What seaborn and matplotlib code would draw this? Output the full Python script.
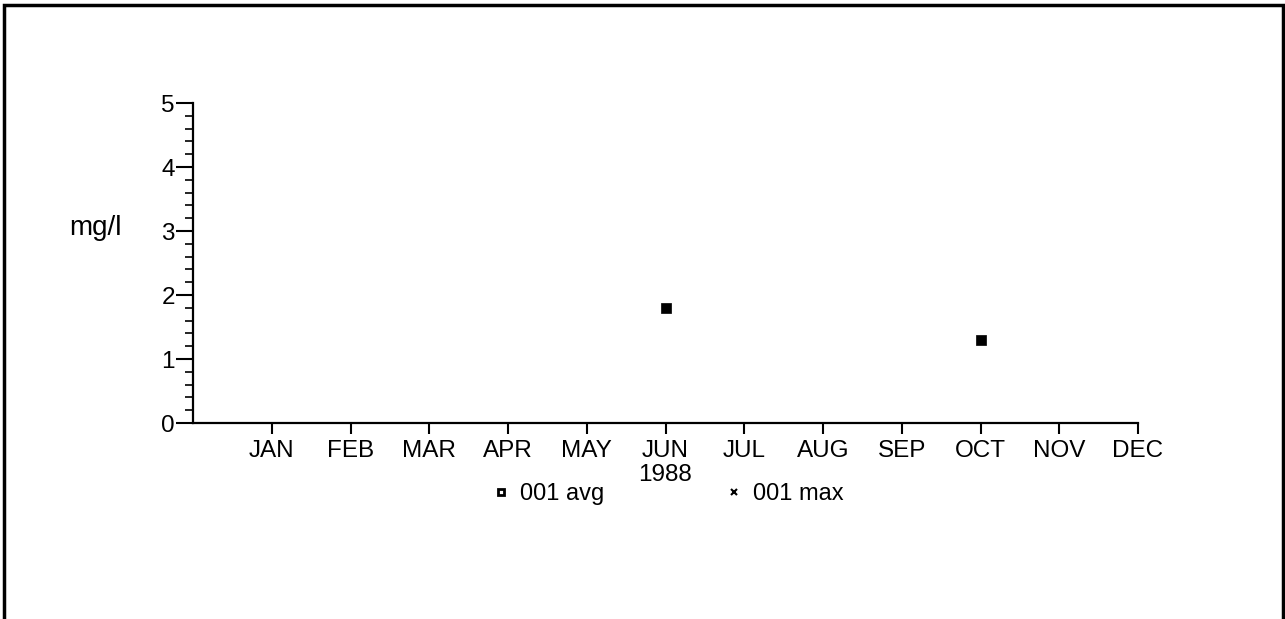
import matplotlib
matplotlib.use("Agg")
import matplotlib.pyplot as plt
from matplotlib.lines import Line2D
from matplotlib.patches import Rectangle
from matplotlib.ticker import MultipleLocator
import pandas as pd
import seaborn as sns

months = ["JAN", "FEB", "MAR", "APR", "MAY", "JUN", "JUL", "AUG", "SEP", "OCT", "NOV", "DEC"]
avg_months = ["JUN", "OCT"]
avg_values = [1.80, 1.29]
max_months = []
max_values = []
year_label = "1988"

sns.set_style("white")
plt.rcParams["font.family"] = ["Liberation Sans", "DejaVu Sans"]
plt.rcParams["text.color"] = "black"
plt.rcParams["xtick.color"] = "black"
plt.rcParams["ytick.color"] = "black"
plt.rcParams["axes.labelcolor"] = "black"

df = pd.DataFrame({
    "month": [months.index(m) + 1 for m in avg_months],
    "value": avg_values,
})

fig = plt.figure(figsize=(12.85, 6.19), dpi=100)
ax = fig.add_axes([193 / 1285, 1 - 423 / 619, 945 / 1285, 320 / 619])

sns.scatterplot(data=df, x="month", y="value", ax=ax, marker="s", s=45,
                color="black", edgecolor="black", linewidth=0.5, legend=False)

ax.set_xlim(0, 12)
ax.set_ylim(0, 5)
ax.set_xticks(range(1, 13))
ax.set_xticklabels(months, fontsize=17.5)
ax.set_yticks(range(0, 6))
ax.set_yticklabels([str(v) for v in range(0, 6)], fontsize=17.5)
ax.yaxis.set_minor_locator(MultipleLocator(0.2))
ax.tick_params(axis="x", direction="out", length=8, width=1.5, pad=4, bottom=True)
ax.tick_params(axis="y", which="major", direction="out", length=12, width=1.5, pad=1, left=True)
ax.tick_params(axis="y", which="minor", direction="out", length=6, width=1.2, left=True)
for side in ["top", "right"]:
    ax.spines[side].set_visible(False)
for side in ["left", "bottom"]:
    ax.spines[side].set_linewidth(1.6)
    ax.spines[side].set_color("black")
ax.set_xlabel("")
ax.set_ylabel("mg/l", rotation=0, fontsize=20, labelpad=0)
ax.yaxis.set_label_coords(-0.103, 0.57)

ax.text(6, -0.128, year_label, transform=ax.get_xaxis_transform(),
        ha="center", va="top", fontsize=17.5)

handles = [
    Line2D([], [], linestyle="", marker="s", markersize=5, color="black",
           markerfacecolor="white", markeredgewidth=2, label="001 avg"),
    Line2D([], [], linestyle="", marker="x", markersize=5, color="black",
           markeredgewidth=1.5, label="001 max"),
]
fig.legend(handles=handles, loc="center", bbox_to_anchor=(666 / 1285, 1 - 494 / 619),
           ncol=2, frameon=False, fontsize=17, columnspacing=5.0, handletextpad=0.3,
           handlelength=1.0)

fig.add_artist(Rectangle((4 / 1285, -0.05), 1279 / 1285, 1.05 - 5 / 619,
                         transform=fig.transFigure, fill=False,
                         edgecolor="black", linewidth=2.5))

fig.savefig("out.png", dpi=100)
